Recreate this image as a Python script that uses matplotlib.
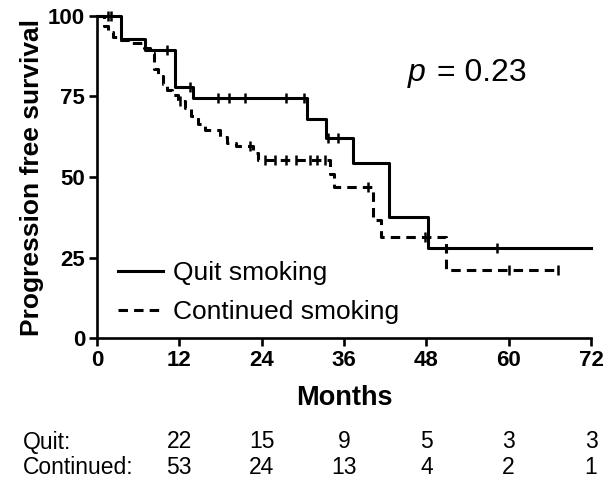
import numpy as np
import matplotlib.pyplot as plt

plt.rcParams['font.family'] = ['Liberation Sans', 'DejaVu Sans']

# Kaplan-Meier steps (months, % progression free)
quit_t = [0, 3.5, 7.0, 11.4, 14.0, 30.6, 33.4, 37.3, 42.5, 48.2, 72]
quit_s = [100, 93, 89.5, 78, 74.5, 68, 62, 54.3, 37.5, 28, 28]
quit_cens = [1.6, 2.0, 10.2, 13.5, 17.6, 19.2, 21.6, 27.6, 30.2, 33.7, 35.1, 58.3]

cont_t = [0, 1.0, 1.6, 2.3, 3.1, 4.8, 6.9, 7.7, 8.3, 8.9, 9.6, 10.2, 10.9,
          11.8, 12.8, 13.7, 14.7, 15.7, 17.9, 19.0, 20.3, 22.7, 23.5,
          34.0, 34.5, 40.2, 41.4, 50.9, 67.2]
cont_s = [100, 97, 95, 93.5, 92.5, 91.5, 90, 88.5, 83.5, 81.5, 79, 77, 75.5,
          73.5, 71.5, 69, 66.5, 64.5, 62.5, 60.5, 59.5, 57.5, 55.3,
          51, 47, 36.5, 31.4, 21, 21]
cont_cens = [12.1, 22.3, 24.5, 26.0, 27.5, 29.0, 31.0, 32.0, 33.2, 39.5,
             47.8, 60.0, 67.2]

risk_months = [12, 24, 36, 48, 60, 72]
risk_quit = [22, 15, 9, 5, 3, 3]
risk_cont = [53, 24, 13, 4, 2, 1]


def surv_at(t, times, surv):
    i = np.searchsorted(times, t, side='right') - 1
    return np.array(surv)[i]


fig = plt.figure(figsize=(6.13, 4.84), dpi=100)
ax = fig.add_axes([97 / 613, 146 / 484, 494 / 613, 322 / 484])

lw = 2.2
ax.step(quit_t, quit_s, where='post', color='black', lw=lw,
        clip_on=False, label='Quit smoking')
ax.step(cont_t, cont_s, where='post', color='black', lw=lw,
        dashes=(3.1, 2), clip_on=False, label='Continued smoking')

ax.plot(quit_cens, surv_at(quit_cens, quit_t, quit_s), ls='none',
        marker='|', ms=7, mew=1.8, color='black', clip_on=False)
ax.plot(cont_cens, surv_at(cont_cens, cont_t, cont_s), ls='none',
        marker='|', ms=7, mew=1.8, color='black', clip_on=False)

ax.set_xlim(0, 72)
ax.set_ylim(0, 100)
ax.set_xticks(np.arange(0, 73, 12))
ax.set_yticks([0, 25, 50, 75, 100])
for s in ['top', 'right']:
    ax.spines[s].set_visible(False)
for s in ['left', 'bottom']:
    ax.spines[s].set_linewidth(1.9)
ax.tick_params(width=1.9, length=5.5, labelsize=16, pad=3)
for lab in ax.get_xticklabels() + ax.get_yticklabels():
    lab.set_fontweight('bold')

ax.set_xlabel('Months', fontsize=19.5, fontweight='bold', labelpad=10)
ax.set_ylabel('Progression free survival', fontsize=19, fontweight='bold',
              labelpad=3)

ax.legend(loc='lower left', bbox_to_anchor=(21 / 494, 14 / 322),
          frameon=False, fontsize=19, handlelength=1.7, handletextpad=0.4,
          borderpad=0, borderaxespad=0, labelspacing=0.55)

ax.text(408 / 613, (484 - 73) / 484, 'p', transform=fig.transFigure,
        fontsize=23, style='italic', va='center', ha='left')
ax.text(437 / 613, (484 - 73) / 484, '= 0.23', transform=fig.transFigure,
        fontsize=23, va='center', ha='left')

tr = ax.get_xaxis_transform()
y1 = (338 - 442) / 322
y2 = (338 - 467) / 322
ax.text(23 / 613, (484 - 442) / 484, 'Quit:', transform=fig.transFigure,
        fontsize=16.5, va='center', ha='left')
ax.text(23 / 613, (484 - 467) / 484, 'Continued:', transform=fig.transFigure,
        fontsize=16.5, va='center', ha='left')
for m, q, c in zip(risk_months, risk_quit, risk_cont):
    ax.text(m, y1, str(q), transform=tr, fontsize=16.5, va='center', ha='center')
    ax.text(m, y2, str(c), transform=tr, fontsize=16.5, va='center', ha='center')

fig.savefig('out.png', dpi=100)
